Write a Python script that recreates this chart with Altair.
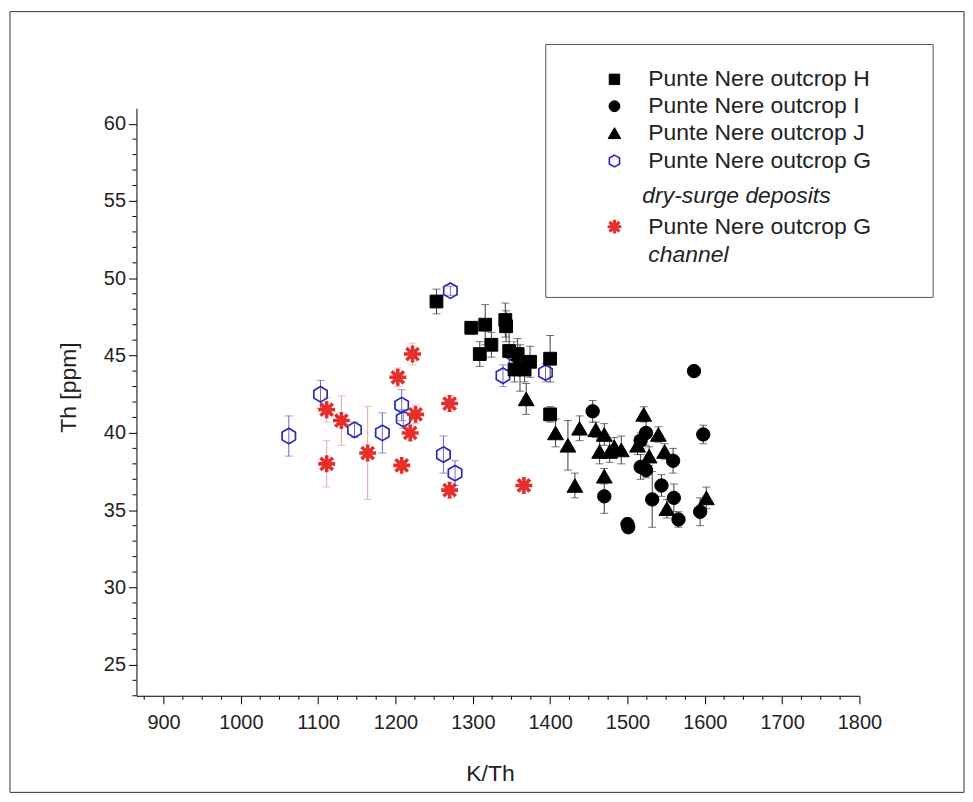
import altair as alt
import pandas as pd

# ---------------- data ----------------
# Punte Nere outcrop H (filled squares)
h_x = [1253, 1298, 1316, 1309, 1324, 1342, 1343, 1347, 1358, 1361, 1374, 1367, 1354, 1400, 1400]
h_y = [48.5, 46.8, 47.0, 45.1, 45.7, 47.3, 46.9, 45.3, 45.1, 44.2, 44.6, 44.1, 44.1, 44.8, 41.2]
h_e = [0.8, 0.4, 1.3, 0.8, 0.8, 1.1, 1.0, 1.2, 1.0, 1.5, 1.0, 0.8, 0.8, 1.5, 0.5]

# Punte Nere outcrop I (filled circles)
i_x = [1455, 1470, 1500, 1501, 1524, 1517, 1517, 1524, 1559, 1544, 1532, 1560, 1566, 1594, 1598, 1586]
i_y = [41.4, 35.9, 34.1, 33.9, 40.0, 39.5, 37.8, 37.6, 38.2, 36.6, 35.7, 35.8, 34.4, 34.9, 39.9, 44.0]
i_e = [0.7, 1.1, 0.4, 0.3, 0.8, 0.5, 0.8, 0.5, 0.8, 0.7, 1.8, 0.9, 0.5, 0.9, 0.6, 0.3]

# Punte Nere outcrop J (filled triangles)
j_x = [1369, 1407, 1423, 1438, 1432, 1459, 1470, 1464, 1477, 1483, 1470, 1492,
       1521, 1540, 1513, 1528, 1548, 1551, 1602]
j_y = [42.2, 40.0, 39.2, 40.3, 36.6, 40.2, 39.9, 38.8, 38.8, 39.1, 37.2, 38.9,
       41.2, 39.9, 39.2, 38.5, 38.8, 35.1, 35.8]
j_e = [1.0, 0.9, 1.6, 0.8, 0.8, 0.5, 0.7, 0.8, 0.7, 0.6, 0.5, 0.9,
       0.5, 0.5, 0.6, 0.6, 0.5, 0.6, 0.7]

# Punte Nere outcrop G, dry-surge deposits (open blue hexagons)
gd_x = [1062, 1103, 1147, 1183, 1208, 1210, 1262, 1277, 1271, 1353, 1339, 1394]
gd_y = [39.8, 42.5, 40.2, 40.0, 41.8, 40.9, 38.6, 37.4, 49.2, 45.1, 43.7, 43.9]
gd_e = [1.3, 0.9, 0.5, 1.3, 1.0, 0.6, 1.2, 0.8, 0.3, 0.8, 0.7, 0.6]

# Punte Nere outcrop G, channel (red asterisks)
gc_x = [1111, 1111, 1130, 1164, 1203, 1222, 1226, 1219, 1208, 1270, 1270, 1366]
gc_y = [41.5, 38.0, 40.8, 38.7, 43.6, 45.1, 41.2, 40.0, 37.9, 41.9, 36.3, 36.6]
gc_e = [0.8, 1.5, 1.6, 3.0, 0.6, 0.7, 0.6, 0.5, 0.3, 0.5, 0.5, 0.4]

x_ticks = [900, 1000, 1100, 1200, 1300, 1400, 1500, 1600, 1700, 1800]
y_ticks = [25, 30, 35, 40, 45, 50, 55, 60]
x_minor = [v for v in range(875, 1800, 25) if v % 100 != 0]
y_minor = [v for v in range(23, 61) if v % 5 != 0]

legend_labels = ["Punte Nere outcrop H", "Punte Nere outcrop I", "Punte Nere outcrop J",
                 "Punte Nere outcrop G", "dry-surge deposits",
                 "Punte Nere outcrop G", "channel"]

# ---------------- styling ----------------
FONT = "Liberation Sans, Arial, sans-serif"
W, H = 726, 590
X_DOM = [865, 1800]
Y_DOM = [23, 61]
HEX = "M0,-1L0.866,-0.5L0.866,0.5L0,1L-0.866,0.5L-0.866,-0.5Z"
AST = "M-1,0L1,0M0,-1L0,1M-0.72,-0.72L0.72,0.72M-0.72,0.72L0.72,-0.72"

xscale = alt.Scale(domain=X_DOM, nice=False, zero=False)
yscale = alt.Scale(domain=Y_DOM, nice=False, zero=False)
xaxis = alt.Axis(values=x_ticks, format="d", title="K/Th", grid=False, tickSize=8, labelFontSize=20,
                 titleFontSize=23, labelFont=FONT, titleFont=FONT, titleFontWeight="normal",
                 labelColor="#222", titleColor="#222", domainColor="black", tickColor="black",
                 labelPadding=9, titlePadding=30, titleX=355, labelOverlap=False, labelFlush=False)
yaxis = alt.Axis(values=y_ticks, title="Th [ppm]", grid=False, tickSize=8, labelFontSize=20,
                 titleFontSize=23, labelFont=FONT, titleFont=FONT, titleFontWeight="normal",
                 labelColor="#222", titleColor="#222", domainColor="black", tickColor="black",
                 labelPadding=3, titlePadding=23, titleY=280, labelOverlap=False)


def X(f):
    return alt.X(f, type="quantitative", scale=xscale, axis=xaxis)


def Y(f):
    return alt.Y(f, type="quantitative", scale=yscale, axis=yaxis)


def series_layers(xs, ys, es, shape, fill, stroke, ecolor, size, sw):
    df = pd.DataFrame({"x": xs, "y": ys, "e": es})
    base = alt.Chart(df).transform_calculate(lo="datum.y - datum.e", hi="datum.y + datum.e")
    rule = base.mark_rule(color=ecolor, strokeWidth=1).encode(x=X("x"), y=Y("lo"), y2="hi:Q")
    cap1 = base.mark_tick(orient="horizontal", size=8, thickness=1, color=ecolor).encode(x=X("x"), y=Y("lo"))
    cap2 = base.mark_tick(orient="horizontal", size=8, thickness=1, color=ecolor).encode(x=X("x"), y=Y("hi"))
    if fill:
        pt = base.mark_point(shape=shape, filled=True, fill=stroke, stroke=stroke, size=size,
                             opacity=1, strokeWidth=sw).encode(x=X("x"), y=Y("y"))
    else:
        pt = base.mark_point(shape=shape, filled=False, stroke=stroke, size=size,
                             opacity=1, strokeWidth=sw).encode(x=X("x"), y=Y("y"))
    return [rule, cap1, cap2], pt


one = pd.DataFrame({"a": [0]})

frame = alt.Chart(one).mark_rect(fillOpacity=0, stroke="#333", strokeWidth=1).encode(
    x=alt.value(-127), x2=alt.value(831), y=alt.value(-97), y2=alt.value(687))

errs = []
pts = []
for args in [
    (gd_x, gd_y, gd_e, HEX, False, "#2a2ab4", "#6a6ac8", 240, 1.7),
    (gc_x, gc_y, gc_e, AST, False, "#e3302c", "#eaa2a2", 290, 3.6),
    (h_x, h_y, h_e, "square", True, "black", "#3a3a3a", 165, 1),
    (i_x, i_y, i_e, "circle", True, "black", "#3a3a3a", 180, 1),
    (j_x, j_y, j_e, "triangle-up", True, "black", "#3a3a3a", 250, 1),
]:
    e, p = series_layers(*args)
    errs += e
    pts.append(p)

# minor ticks
xm = alt.Chart(pd.DataFrame({"x": x_minor})).mark_rule(color="black", strokeWidth=1).encode(
    x=X("x"), y=alt.value(H), y2=alt.value(H + 4))
ym = alt.Chart(pd.DataFrame({"y": y_minor})).mark_rule(color="black", strokeWidth=1).encode(
    y=Y("y"), x=alt.value(0), x2=alt.value(-4))

# legend
LX0, LX1, LY0, LY1 = 411, 800, -64, 190
leg_box = alt.Chart(one).mark_rect(fill="white", stroke="#555", strokeWidth=1).encode(
    x=alt.value(LX0), x2=alt.value(LX1), y=alt.value(LY0), y2=alt.value(LY1))

SYM_X = 480
TXT_X = 514
rows_y = [-29, -2, 25, 53, 88, 119, 147]
leg = [leg_box]
sym_specs = [
    ("square", True, "black", 110, 1),
    ("circle", True, "black", 120, 1),
    ("triangle-up", True, "black", 160, 1),
    (HEX, False, "#2a2ab4", 140, 1.6),
    None,
    (AST, False, "#e3302c", 190, 3.2),
    None,
]
for k, lab in enumerate(legend_labels):
    italic = k in (4, 6)
    tx = TXT_X - 6 if k == 4 else TXT_X
    leg.append(alt.Chart(one).mark_text(
        text=lab, align="left", baseline="middle", fontSize=23, font=FONT,
        fontStyle="italic" if italic else "normal", color="#222").encode(
        x=alt.value(tx), y=alt.value(rows_y[k])))
    s = sym_specs[k]
    if s is not None:
        shape, filled, col, sz, sw = s
        if filled:
            leg.append(alt.Chart(one).mark_point(shape=shape, filled=True, fill=col, stroke=col,
                                                 size=sz, opacity=1, strokeWidth=sw).encode(
                x=alt.value(SYM_X), y=alt.value(rows_y[k])))
        else:
            leg.append(alt.Chart(one).mark_point(shape=shape, filled=False, stroke=col,
                                                 size=sz, opacity=1, strokeWidth=sw).encode(
                x=alt.value(SYM_X), y=alt.value(rows_y[k])))

chart = alt.layer(frame, xm, ym, *errs, *pts, *leg).properties(
    width=W, height=H,
    padding={"left": 129, "top": 99, "right": 106, "bottom": 99},
    autosize=alt.AutoSizeParams(type="none"),
    background="white",
).configure_view(stroke="transparent")

chart.save("out.html", embed_options={"renderer": "svg", "actions": False})
